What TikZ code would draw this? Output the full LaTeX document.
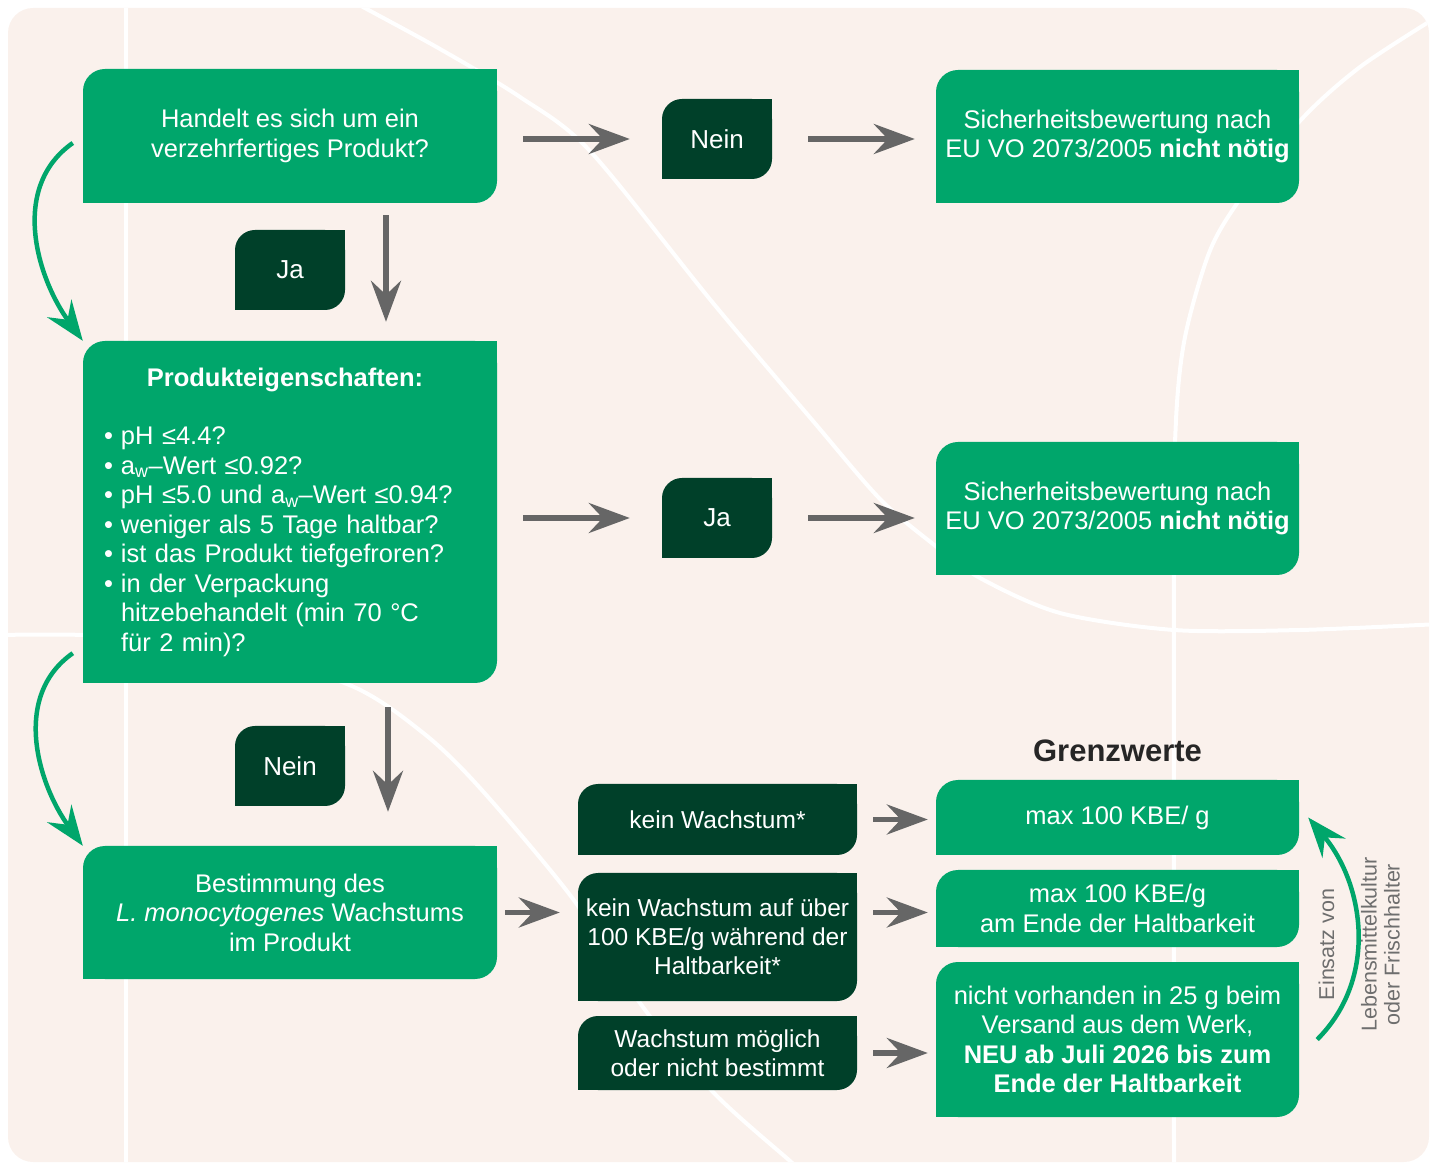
\documentclass[tikz,border=0pt]{standalone}
\usepackage{fontspec}
\setmainfont{Liberation Sans}
\usepackage{tikz}
\usetikzlibrary{arrows.meta}

\definecolor{leafgreen}{RGB}{0,166,107}
\definecolor{darkleaf}{RGB}{0,64,41}
\definecolor{paper}{RGB}{250,241,236}
\definecolor{arrowgray}{RGB}{102,102,102}
\definecolor{notegray}{RGB}{110,110,110}
\definecolor{titlegray}{RGB}{38,38,38}

\begin{document}
\begin{tikzpicture}[x=1pt, y=1pt, node distance=134pt]
        \tikzstyle{greenbox} = [inner sep=0pt, minimum width=414pt, align=center, text=white, font=\fontsize{25.5}{29.5}\selectfont, path picture={
                \fill[leafgreen, rounded corners=22pt] (path picture bounding box.south west) rectangle (path picture bounding box.north east);
                \fill[leafgreen] (path picture bounding box.north east) rectangle ([xshift=-30pt,yshift=-30pt]path picture bounding box.north east);
                \fill[leafgreen] (path picture bounding box.south west) rectangle ([xshift=30pt,yshift=30pt]path picture bounding box.south west);}]
        \tikzstyle{darkbox} = [inner sep=0pt, minimum width=279pt, align=center, text=white, font=\fontsize{24.5}{29}\selectfont, path picture={
                \fill[darkleaf, rounded corners=20pt] (path picture bounding box.south west) rectangle (path picture bounding box.north east);
                \fill[darkleaf] (path picture bounding box.north east) rectangle ([xshift=-30pt,yshift=-30pt]path picture bounding box.north east);
                \fill[darkleaf] (path picture bounding box.south west) rectangle ([xshift=30pt,yshift=30pt]path picture bounding box.south west);}]
        \tikzstyle{tag} = [darkbox, minimum width=110pt, minimum height=80pt, font=\fontsize{26}{30}\selectfont]
        \tikzstyle{arrow} = [line width=5.5pt, draw=arrowgray, ->, >={Stealth[length=41pt, width=30pt, inset=14pt]}]
        \tikzstyle{greenarrow} = [line width=4.5pt, draw=leafgreen, ->, >={Stealth[length=40pt, width=30pt, inset=14pt]}]
        \tikzstyle{bgline} = [white, line width=4pt]

        \useasboundingbox (0,0) rectangle (1437,1165);
        \fill[paper, rounded corners=25pt] (8,3) rectangle (1429,1157);
        \begin{scope}
                \clip[rounded corners=25pt] (8,3) rectangle (1429,1157);
                \draw[bgline] (126,-5) -- (126,1170);
                \draw[bgline] plot[smooth] coordinates {(340,1171) (363,1158) (440,1116) (520,1068) (590,1014) (713,862) (813,744) (880,666) (933,621) (980,587) (1060,552) (1174,535) (1300,535) (1440,541)};
                \draw[bgline] plot[smooth] coordinates {(0,530) (83,530) (200,522) (347,481) (422,433) (480,377) (573,266) (640,162) (713,73) (790,4) (800,-5)};
                \draw[bgline] plot[smooth] coordinates {(1174,-5) (1174,600) (1176,745) (1185,828) (1209,912) (1238,963) (1299,1043) (1360,1098) (1440,1150)};
        \end{scope}

        \node (ready) [greenbox, minimum height=134pt] at (290,1029) {Handelt es sich um ein\\verzehrfertiges Produkt?};
        \node (ja1) [tag, below of=ready] {Ja};
        \node (props) [greenbox, minimum height=342pt, text width=372pt, align=left, below of=ready, yshift=-242pt] {\makebox[362pt][c]{\bfseries Produkteigenschaften:}\\[29pt]
                \makebox[17pt][l]{\textbullet}pH ≤4.4?\\
                \makebox[17pt][l]{\textbullet}a\textsubscript{w}–Wert ≤0.92?\\
                \makebox[17pt][l]{\textbullet}pH ≤5.0 und a\textsubscript{w}–Wert ≤0.94?\\
                \makebox[17pt][l]{\textbullet}weniger als 5 Tage haltbar?\\
                \makebox[17pt][l]{\textbullet}ist das Produkt tiefgefroren?\\
                \makebox[17pt][l]{\textbullet}in der Verpackung\\
                \hspace*{17pt}hitzebehandelt (min 70 °C\\
                \hspace*{17pt}für 2 min)?};
        \node (nein2) [tag, below of=props, yshift=-120pt] {Nein};
        \node (growth) [greenbox, minimum height=133pt, below of=props, yshift=-266.5pt] {Bestimmung des\\\textit{L. monocytogenes} Wachstums\\im Produkt};

        \node (nein1) [tag, right of=ready, xshift=293pt, yshift=-3pt] {Nein};
        \node (noneed1) [greenbox, minimum width=363pt, minimum height=133pt, right of=nein1, xshift=266.5pt, yshift=2.5pt] {Sicherheitsbewertung nach\\EU VO 2073/2005 \textbf{nicht nötig}};
        \node (ja2) [tag, right of=props, xshift=293pt, yshift=-6pt] {Ja};
        \node (noneed2) [greenbox, minimum width=363pt, minimum height=133pt, right of=ja2, xshift=266.5pt, yshift=9.5pt] {Sicherheitsbewertung nach\\EU VO 2073/2005 \textbf{nicht nötig}};

        \node (slow) [darkbox, minimum height=128pt, right of=growth, xshift=293.5pt, yshift=-24.5pt] {kein Wachstum auf über\\100 KBE/g während der\\Haltbarkeit*};
        \node (nogrowth) [darkbox, minimum height=71pt, above of=slow, yshift=-16.5pt] {kein Wachstum*};
        \node (maygrowth) [darkbox, minimum height=74pt, below of=slow, yshift=18pt] {Wachstum möglich\\oder nicht bestimmt};

        \node (limit1) [greenbox, minimum width=363pt, minimum height=75pt, right of=nogrowth, xshift=266pt, yshift=2pt] {max 100 KBE/ g};
        \node (limit2) [greenbox, minimum width=363pt, minimum height=77pt, right of=slow, xshift=266pt, yshift=28.5pt] {max 100 KBE/g\\am Ende der Haltbarkeit};
        \node (limit3) [greenbox, minimum width=363pt, minimum height=155pt, right of=maygrowth, xshift=266pt, yshift=13.5pt] {nicht vorhanden in 25 g beim\\Versand aus dem Werk,\\\textbf{NEU ab Juli 2026 bis zum}\\\textbf{Ende der Haltbarkeit}};
        \node (limits) [above of=limit1, yshift=-67.5pt, text=titlegray, font=\bfseries\fontsize{31}{36}\selectfont] {Grenzwerte};

        \node (usage) [right of=limit2, xshift=75pt, yshift=-36pt, rotate=90, text=notegray, font=\fontsize{21.5}{23}\selectfont] {Einsatz von};
        \node (agents) [right of=usage, xshift=-80pt, rotate=90, align=center, text=notegray, font=\fontsize{21.5}{23}\selectfont] {Lebensmittelkultur\\oder Frischhalter};

        \draw [arrow, shorten <=12pt, shorten >=19pt] ([xshift=96pt]ready.south) -- ([xshift=96pt]props.north);
        \draw [arrow, shorten <=26pt, shorten >=32pt] (ready.east |- nein1) -- (nein1);
        \draw [arrow, shorten <=36pt, shorten >=21pt] (nein1) -- (nein1 -| noneed1.west);
        \draw [arrow, shorten <=26pt, shorten >=32pt] (props.east |- ja2) -- (ja2);
        \draw [arrow, shorten <=36pt, shorten >=21pt] (ja2) -- (ja2 -| noneed2.west);
        \draw [arrow, shorten <=24pt, shorten >=34pt] ([xshift=98pt]props.south) -- ([xshift=98pt]growth.north);
        \draw [arrow, shorten <=8pt, shorten >=18pt] (growth) -- (growth -| slow.west);
        \draw [arrow, shorten <=16pt, shorten >=8pt] (nogrowth) -- (nogrowth -| limit1.west);
        \draw [arrow, shorten <=16pt, shorten >=8pt] (slow.east |- growth) -- (limit2.west |- growth);
        \draw [arrow, shorten <=16pt, shorten >=8pt] (maygrowth) -- (maygrowth -| limit3.west);
        \draw [greenarrow] ([xshift=-10pt,yshift=-7pt]ready.west) to[out=215, in=126] (props.north west);
        \draw [greenarrow] ([xshift=-10pt,yshift=30pt]props.south west) to[out=215, in=126] (growth.north west);
        \draw [greenarrow] ([xshift=18pt]limit3.east) to[out=45, in=-50] ([xshift=9pt]limit1.east);
\end{tikzpicture}
\end{document}
